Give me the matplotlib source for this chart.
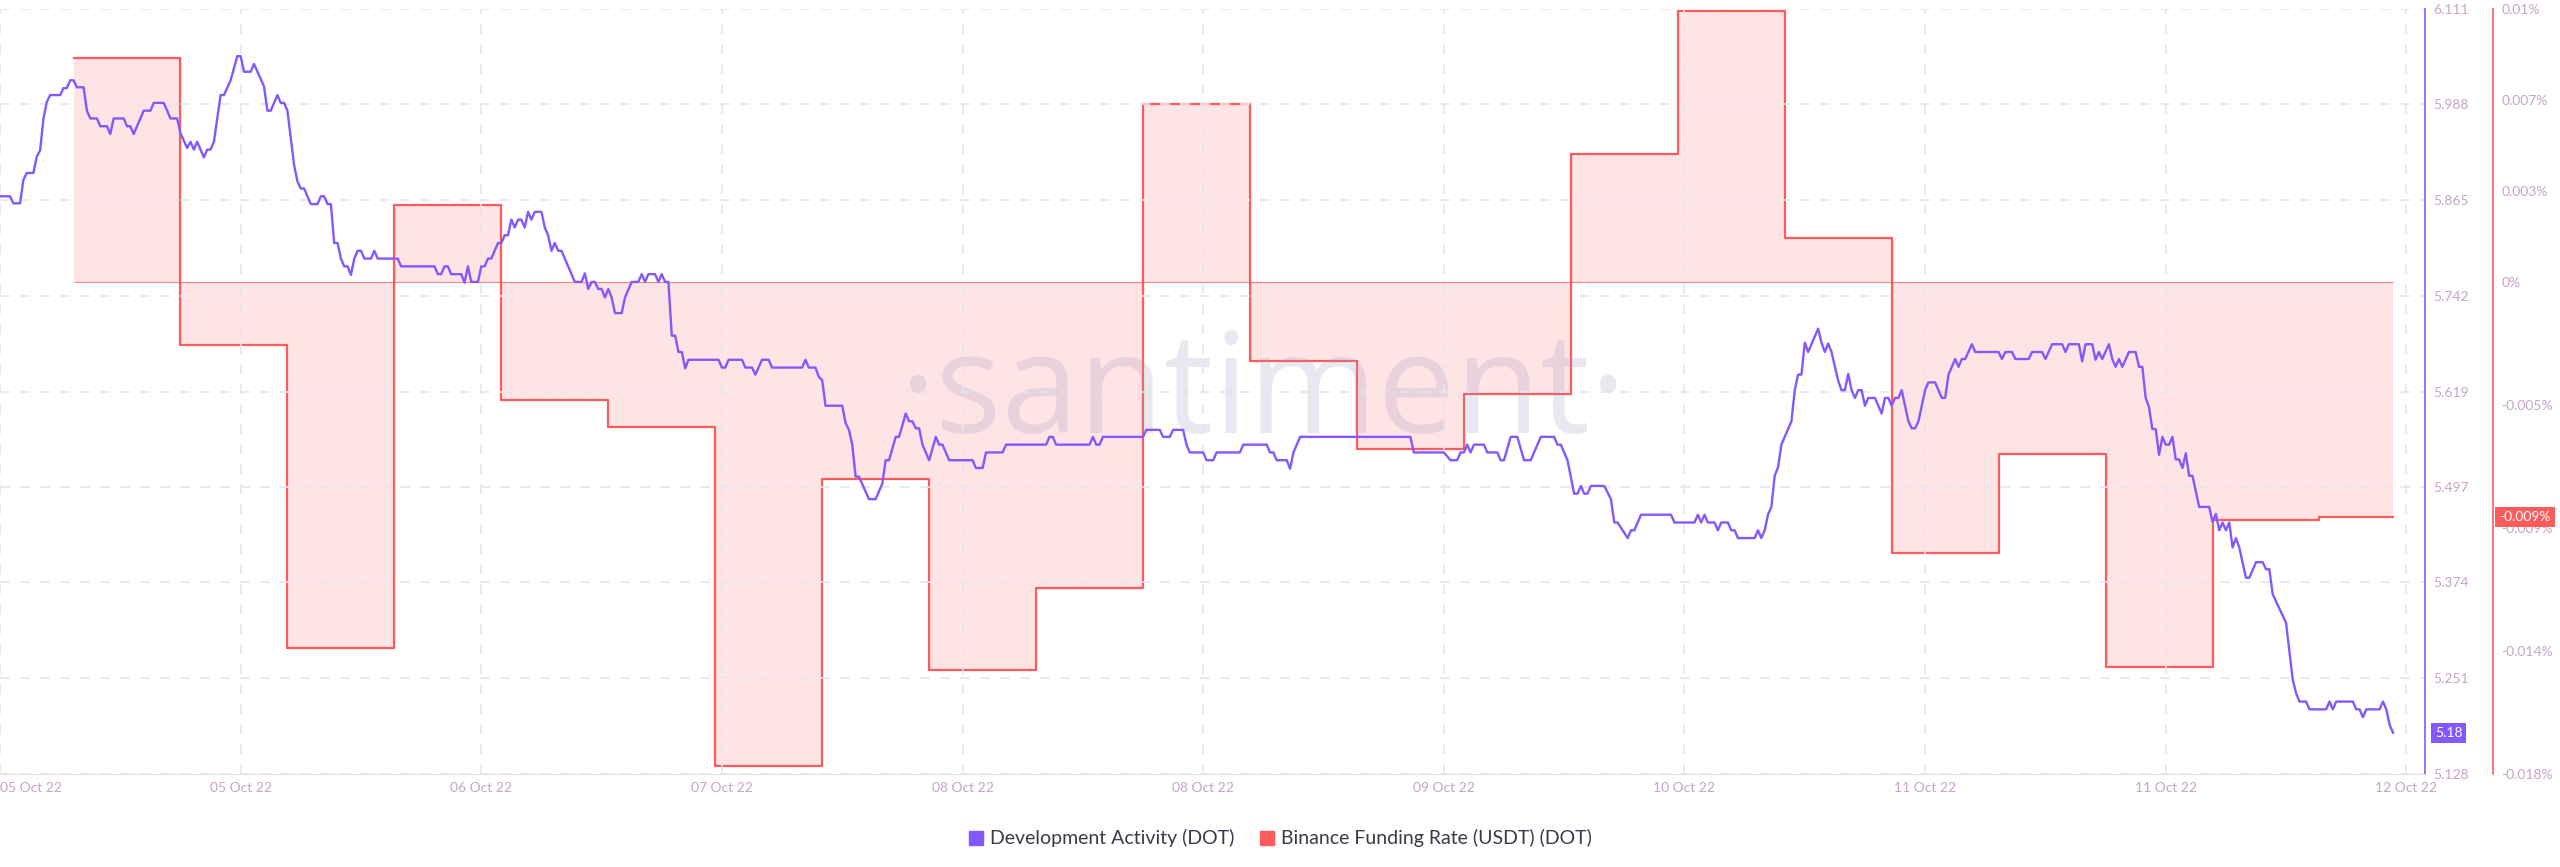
import matplotlib
matplotlib.use("Agg")
import matplotlib.pyplot as plt
import matplotlib.transforms as mtransforms
from matplotlib.lines import Line2D
import numpy as np
import pandas as pd

plt.rcParams["font.family"] = ["Lato", "DejaVu Sans"]

# ─── Data ─────────────────────────────────────────────────────
start = pd.Timestamp("2022-10-05 02:30")

# (15-minute periods after start, development activity)
dev_activity = [
    (0, 5.870), (3, 5.870), (4, 5.861), (6, 5.861), (7, 5.891), (8, 5.900), (10, 5.900), (11, 5.921), (12, 5.929), (13, 5.970),
    (14, 5.991), (15, 6.000), (18, 6.000), (19, 6.009), (20, 6.009), (21, 6.019), (22, 6.019), (23, 6.010), (25, 6.010), (26, 5.980),
    (27, 5.970), (29, 5.970), (30, 5.960), (32, 5.960), (33, 5.950), (34, 5.970), (37, 5.970), (38, 5.960), (39, 5.960), (40, 5.950),
    (43, 5.980), (45, 5.980), (46, 5.990), (49, 5.990), (51, 5.970), (53, 5.970), (54, 5.951), (56, 5.932), (57, 5.940), (58, 5.930),
    (59, 5.940), (61, 5.920), (62, 5.930), (63, 5.930), (64, 5.940), (66, 6.000), (67, 6.000), (69, 6.019), (71, 6.050), (72, 6.050),
    (73, 6.030), (75, 6.030), (76, 6.040), (79, 6.011), (80, 5.980), (81, 5.980), (83, 6.000), (84, 5.990), (85, 5.990), (86, 5.980),
    (88, 5.910), (89, 5.889), (90, 5.880), (91, 5.880), (93, 5.860), (95, 5.860), (96, 5.870), (97, 5.870), (98, 5.860), (99, 5.860),
    (100, 5.810), (101, 5.810), (102, 5.790), (103, 5.780), (104, 5.780), (105, 5.769), (106, 5.790), (107, 5.800), (108, 5.800), (109, 5.790),
    (111, 5.790), (112, 5.800), (113, 5.790), (119, 5.790), (120, 5.780),
    (130, 5.780), (131, 5.770), (132, 5.770), (133, 5.780), (134, 5.780), (135, 5.770), (138, 5.770), (139, 5.759), (140, 5.780), (141, 5.760),
    (143, 5.760), (144, 5.780), (145, 5.780), (146, 5.790), (147, 5.790), (149, 5.810), (150, 5.810), (151, 5.820), (152, 5.820), (153, 5.840),
    (154, 5.830), (155, 5.840), (156, 5.840), (157, 5.830), (158, 5.850), (159, 5.840), (160, 5.850), (162, 5.850), (163, 5.830), (164, 5.820),
    (165, 5.800), (166, 5.810), (167, 5.800), (168, 5.800), (172, 5.760), (174, 5.760), (175, 5.771), (176, 5.751), (177, 5.760), (178, 5.760),
    (179, 5.751), (180, 5.751), (181, 5.740), (182, 5.751), (183, 5.740), (184, 5.720), (186, 5.720), (187, 5.740), (189, 5.760), (191, 5.760),
    (192, 5.770), (193, 5.760), (194, 5.770), (196, 5.770), (197, 5.760), (198, 5.770), (199, 5.760), (200, 5.760), (201, 5.691), (202, 5.691),
    (203, 5.670), (204, 5.670), (205, 5.649), (206, 5.660), (215, 5.660), (216, 5.650), (217, 5.650), (218, 5.660), (222, 5.660), (223, 5.650),
    (225, 5.650), (226, 5.641), (228, 5.660), (230, 5.660), (231, 5.650), (240, 5.650), (241, 5.660), (242, 5.650), (244, 5.650), (245, 5.638),
    (246, 5.634), (247, 5.601), (252, 5.601), (253, 5.579), (254, 5.570), (255, 5.551), (256, 5.510), (257, 5.510), (260, 5.481), (262, 5.481),
    (264, 5.501), (265, 5.531), (266, 5.531), (268, 5.561), (269, 5.561), (271, 5.591), (272, 5.581), (273, 5.581), (274, 5.572), (275, 5.572),
    (276, 5.551), (278, 5.531), (280, 5.561), (281, 5.551), (282, 5.551), (284, 5.531), (291, 5.531), (292, 5.521), (294, 5.521), (295, 5.541),
    (300, 5.541), (301, 5.551), (313, 5.551), (314, 5.561), (315, 5.561), (316, 5.551), (326, 5.551), (327, 5.561), (328, 5.551), (329, 5.551),
    (330, 5.561), (342, 5.561), (343, 5.570), (347, 5.570), (348, 5.561), (350, 5.561), (351, 5.570), (354, 5.570), (355, 5.551), (356, 5.541),
    (360, 5.541), (361, 5.531), (363, 5.531), (364, 5.541),
    (371, 5.541), (372, 5.551), (379, 5.551), (380, 5.541), (381, 5.541), (382, 5.531), (385, 5.531), (386, 5.520), (387, 5.541), (389, 5.561),
    (422, 5.561), (423, 5.541), (432, 5.541), (434, 5.531), (436, 5.531), (437, 5.541), (438, 5.541), (439, 5.551), (440, 5.541), (441, 5.551),
    (444, 5.551), (445, 5.541), (448, 5.541), (449, 5.531), (450, 5.531), (452, 5.561), (454, 5.561), (456, 5.531), (458, 5.531), (461, 5.561),
    (465, 5.561), (466, 5.551), (467, 5.551), (469, 5.531), (471, 5.488), (472, 5.488), (473, 5.498), (474, 5.488), (475, 5.488), (476, 5.498),
    (480, 5.498), (482, 5.481), (483, 5.451), (484, 5.451), (487, 5.431), (488, 5.441), (489, 5.441),
    (491, 5.461), (500, 5.461), (501, 5.451), (507, 5.451), (508, 5.461), (509, 5.451), (510, 5.461), (511, 5.451), (513, 5.451), (514, 5.441),
    (515, 5.451), (517, 5.451), (518, 5.441), (519, 5.441), (520, 5.431), (525, 5.431), (526, 5.441), (527, 5.431), (528, 5.441), (529, 5.461),
    (530, 5.471), (531, 5.511), (532, 5.522), (533, 5.551), (536, 5.581), (537, 5.621), (538, 5.641), (539, 5.641), (540, 5.682), (541, 5.670),
    (544, 5.700), (545, 5.682), (546, 5.670), (547, 5.681), (548, 5.670), (550, 5.633), (551, 5.621), (552, 5.621), (553, 5.642), (554, 5.621),
    (555, 5.611), (556, 5.621), (557, 5.621), (558, 5.601), (559, 5.611), (561, 5.611), (563, 5.591), (564, 5.611), (565, 5.611), (566, 5.601),
    (567, 5.611), (568, 5.611), (569, 5.621), (571, 5.581), (572, 5.572), (573, 5.572), (574, 5.581), (576, 5.621), (577, 5.631), (579, 5.631),
    (581, 5.611), (582, 5.611), (583, 5.641), (585, 5.661), (586, 5.651), (587, 5.661), (588, 5.661), (590, 5.680), (591, 5.670), (598, 5.670),
    (599, 5.661), (600, 5.670), (602, 5.670), (603, 5.661), (607, 5.661),
    (608, 5.670), (611, 5.670), (612, 5.661), (614, 5.680), (617, 5.680), (618, 5.670), (619, 5.680), (622, 5.680), (623, 5.658), (624, 5.680),
    (626, 5.680), (627, 5.660), (628, 5.670), (629, 5.661), (631, 5.680), (632, 5.661), (633, 5.651), (634, 5.661), (635, 5.651), (637, 5.670),
    (639, 5.670), (640, 5.651), (641, 5.651), (642, 5.611), (643, 5.599), (644, 5.571), (645, 5.571), (646, 5.538), (647, 5.561), (648, 5.551),
    (649, 5.551), (650, 5.561), (651, 5.532), (652, 5.532), (653, 5.521), (654, 5.540), (655, 5.511), (656, 5.511), (658, 5.471), (661, 5.471),
    (662, 5.452), (663, 5.462), (664, 5.441), (665, 5.451), (666, 5.441), (667, 5.451), (668, 5.419), (669, 5.431), (670, 5.419), (672, 5.380),
    (673, 5.380), (675, 5.400), (677, 5.400), (678, 5.391), (679, 5.391), (680, 5.359), (684, 5.322), (686, 5.249), (687, 5.232), (688, 5.221),
    (690, 5.221), (691, 5.211), (696, 5.211), (697, 5.221), (698, 5.211), (699, 5.221), (704, 5.221), (705, 5.211), (706, 5.211), (707, 5.201),
    (708, 5.211), (712, 5.211), (713, 5.221), (714, 5.211), (715, 5.191), (716, 5.181),
]

# Binance funding rate (%), one value per 8h funding period
funding_rate = [0.0082, -0.0023, -0.0134, 0.0028, -0.0043, -0.0053, -0.0177, -0.0072,
                -0.0142, -0.0112, 0.0065, -0.0029, -0.0061, -0.0041, 0.0047, 0.0099,
                0.0016, -0.0099, -0.0063, -0.0141, -0.0087, -0.0086]
first_funding = pd.Timestamp("2022-10-05 08:00")

dev_ticks = [5.128, 5.251, 5.374, 5.497, 5.619, 5.742, 5.865, 5.988, 6.111]
fund_ticks = [-0.018, -0.0135, -0.009, -0.0045, 0.0, 0.00333, 0.00667, 0.01]
fund_tick_labels = ["-0.018%", "-0.014%", "-0.009%", "-0.005%", "0%", "0.003%", "0.007%", "0.01%"]

PURPLE = "#8358ff"
RED = "#ff5b5b"
FILL = "#ffe4e6"
TICK = "#c7a3c7"
GRID = "#e6e4ee"

# ─── Prepare ──────────────────────────────────────────────────
dev_offsets = np.array([p[0] for p in dev_activity])
dev_values = np.array([p[1] for p in dev_activity])
dev_times = (start + pd.to_timedelta(dev_offsets * 15, unit="min")).to_pydatetime()

fund_times = list(pd.date_range(first_funding, periods=len(funding_rate), freq="8h").to_pydatetime())
fund_times.append(dev_times[-1])
fund_vals = funding_rate + [funding_rate[-1]]

x_ticks = pd.date_range(start, periods=11, freq="18h").to_pydatetime()
x_labels = [t.strftime("%d %b %y") for t in x_ticks]

# ─── Plot ─────────────────────────────────────────────────────
fig = plt.figure(figsize=(25.6, 8.67), dpi=100)
ax1 = fig.add_axes([0.0, 0.1073, 0.9473, 0.8827])
ax2 = ax1.twinx()
ax1.set_zorder(ax2.get_zorder() + 1)
ax1.patch.set_visible(False)

# funding (behind)
ax2.fill_between(fund_times, fund_vals, 0, step="post", color=FILL, lw=0, zorder=1)
ax2.hlines(0, fund_times[0], fund_times[-1], color=RED, lw=0.8, alpha=0.75, zorder=2)
ax2.plot(fund_times, fund_vals, drawstyle="steps-post", color=RED, lw=1.6, zorder=3)
ax2.text(0.521, 0.445, "·santiment·", transform=ax2.transAxes, ha="center", va="baseline",
         fontsize=100, color="#9a9ac0", alpha=0.22, family=["Open Sans", "DejaVu Sans"], zorder=4)

# development activity (front)
ax1.plot(dev_times, dev_values, color=PURPLE, lw=1.7, zorder=3)

ax1.set_xlim(start, start + pd.Timedelta(hours=181.4))
ax1.set_ylim(5.128, 6.111)
ax2.set_ylim(-0.018, 0.01)

ax1.set_xticks(x_ticks)
ax1.set_xticklabels(x_labels)
ax1.get_xticklabels()[0].set_ha("left")
ax1.yaxis.tick_right()
ax1.set_yticks(dev_ticks)
ax1.set_yticklabels([f"{v:.3f}" for v in dev_ticks])
ax2.set_yticks(fund_ticks)
ax2.set_yticklabels(fund_tick_labels)

ax1.tick_params(axis="x", length=0, pad=6, labelsize=10, labelcolor=TICK)
ax1.tick_params(axis="y", length=0, pad=6, labelsize=10, labelcolor=TICK)
ax2.tick_params(axis="y", length=0, pad=6, labelsize=10, labelcolor=TICK)

ax1.grid(True, color=GRID, lw=1.2, ls=(0, (6, 6)))

for s in ("top", "left"):
    ax1.spines[s].set_visible(False)
ax1.spines["right"].set_color(PURPLE)
ax1.spines["right"].set_linewidth(1.2)
ax1.spines["bottom"].set_color("#e2dfea")
for s in ("top", "left", "bottom"):
    ax2.spines[s].set_visible(False)
ax2.spines["right"].set_position(("outward", 49))
ax2.spines["right"].set_color(RED)
ax2.spines["right"].set_linewidth(1.2)

# last value badges
tr1 = mtransforms.blended_transform_factory(ax1.transAxes, ax1.transData)
ax1.text(1.004, dev_values[-1], f"{dev_values[-1]:.2f}", transform=tr1, ha="left", va="center",
         fontsize=10, color="white", zorder=10, clip_on=False,
         bbox=dict(boxstyle="square,pad=0.3", fc=PURPLE, ec="none"))
tr2 = mtransforms.blended_transform_factory(ax2.transAxes, ax2.transData)
ax2.text(1.0305, funding_rate[-1], f"{funding_rate[-1]:.3f}%", transform=tr2, ha="left", va="center",
         fontsize=10, color="white", zorder=10, clip_on=False,
         bbox=dict(boxstyle="square,pad=0.3", fc=RED, ec="none"))

handles = [Line2D([], [], marker="s", ls="none", color=PURPLE, markersize=10),
           Line2D([], [], marker="s", ls="none", color=RED, markersize=10)]
fig.legend(handles, ["Development Activity (DOT)", "Binance Funding Rate (USDT) (DOT)"],
           loc="center", bbox_to_anchor=(0.5, 0.033), ncol=2, frameon=False, fontsize=14,
           handlelength=0.8, handletextpad=0.3, columnspacing=1.3, labelcolor="#3a3a4c")

fig.savefig("out.png", dpi=100, facecolor="white")
